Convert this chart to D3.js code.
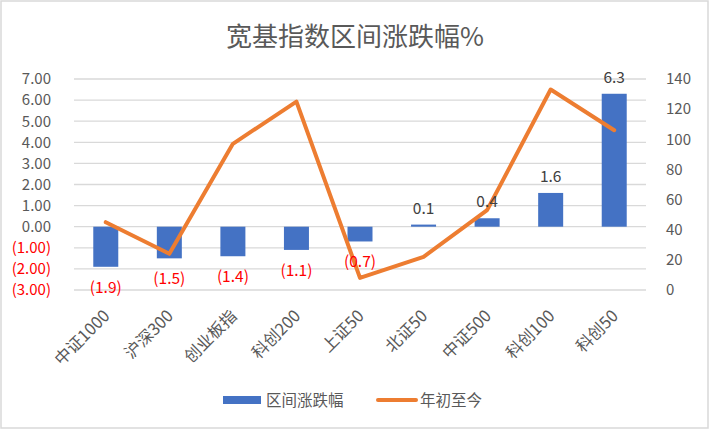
<!DOCTYPE html>
<html>
<head>
<meta charset="utf-8">
<script src="https://cdn.jsdelivr.net/npm/d3@7"></script>
<style>
body { margin: 0; background: #fff; }
text { font-family: "Noto Sans CJK SC", "Noto Sans", sans-serif; }
</style>
</head>
<body>
<div id="chart"></div>
<script>
const categories = ["中证1000", "沪深300", "创业板指", "科创200", "上证50", "北证50", "中证500", "科创100", "科创50"];
const rangeChange = [-1.9, -1.5, -1.4, -1.1, -0.7, 0.1, 0.4, 1.6, 6.3];
const ytd = [45, 24, 97, 125, 8, 22, 53, 133, 106];
const leftTicks = [-3, -2, -1, 0, 1, 2, 3, 4, 5, 6, 7];
const rightTicks = [0, 20, 40, 60, 80, 100, 120, 140];

const width = 709, height = 431;
const margin = { top: 79, right: 63, bottom: 141, left: 74 };

const svg = d3.select('#chart').append('svg').attr('width', width).attr('height', height);

// outer border
svg.append('rect').attr('x', 1).attr('y', 1).attr('width', width - 2).attr('height', height - 4)
    .attr('fill', '#fff').attr('stroke', '#d9d9d9').attr('stroke-width', 1.5);

const x = d3.scaleBand().domain(categories).range([margin.left, width - margin.right]).paddingInner(0).paddingOuter(0);
const yL = d3.scaleLinear().domain([-3, 7]).range([height - margin.bottom, margin.top]);
const yR = d3.scaleLinear().domain([0, 140]).range([height - margin.bottom, margin.top]);

// gridlines
svg.append('g').selectAll('line').data(leftTicks).enter().append('line')
    .attr('x1', margin.left).attr('x2', width - margin.right)
    .attr('y1', d => yL(d)).attr('y2', d => yL(d))
    .attr('stroke', '#d9d9d9').attr('stroke-width', 1.3);

const fmt = d => d < 0 ? '(' + Math.abs(d).toFixed(2) + ')' : d.toFixed(2);

// left axis
const leftAxis = svg.append('g').attr('transform', `translate(${margin.left - 20},0)`)
    .call(d3.axisLeft(yL).tickValues(leftTicks).tickFormat(fmt).tickSize(0));
leftAxis.select('.domain').remove();
leftAxis.selectAll('text').attr('font-size', 15).attr('dx', 0)
    .attr('fill', d => d < 0 ? '#ff0000' : '#595959');

// right axis
const rightAxis = svg.append('g').attr('transform', `translate(${width - margin.right + 17},0)`)
    .call(d3.axisRight(yR).tickValues(rightTicks).tickSize(0));
rightAxis.select('.domain').remove();
rightAxis.selectAll('text').attr('font-size', 15).attr('fill', '#595959');

// bars
const bw = 25;
svg.append('g').selectAll('rect').data(rangeChange).enter().append('rect')
    .attr('x', (d, i) => x(categories[i]) + x.bandwidth() / 2 - bw / 2)
    .attr('width', bw)
    .attr('y', d => yL(Math.max(0, d)))
    .attr('height', d => Math.abs(yL(d) - yL(0)))
    .attr('fill', '#4472c4');

// line
const line = d3.line().x((d, i) => x(categories[i]) + x.bandwidth() / 2).y(d => yR(d));
svg.append('path').datum(ytd).attr('d', line)
    .attr('fill', 'none').attr('stroke', '#ed7d31').attr('stroke-width', 4)
    .attr('stroke-linejoin', 'round').attr('stroke-linecap', 'round');

// bar labels
svg.append('g').selectAll('text').data(rangeChange).enter().append('text')
    .attr('x', (d, i) => x(categories[i]) + x.bandwidth() / 2)
    .attr('y', d => d < 0 ? yL(d) + 26 : yL(d) - 11)
    .attr('text-anchor', 'middle').attr('font-size', 15.5)
    .attr('fill', d => d < 0 ? '#ff0000' : '#404040')
    .text(d => d < 0 ? '(' + Math.abs(d).toFixed(1) + ')' : d.toFixed(1));

// category labels
svg.append('g').selectAll('text').data(categories).enter().append('text')
    .attr('transform', d => `translate(${x(d) + x.bandwidth() / 2 + 5},${height - margin.bottom + 27}) rotate(-45)`)
    .attr('text-anchor', 'end').attr('font-size', 16.5).attr('fill', '#595959')
    .text(d => d);

// title
svg.append('text').attr('x', 355).attr('y', 46).attr('text-anchor', 'middle')
    .attr('font-size', 26).attr('fill', '#595959').text('宽基指数区间涨跌幅%');

// legend
const lg = svg.append('g');
lg.append('rect').attr('x', 223).attr('y', 396).attr('width', 38).attr('height', 8).attr('fill', '#4472c4');
lg.append('text').attr('x', 266).attr('y', 405.5).attr('font-size', 15.5).attr('fill', '#595959').text('区间涨跌幅');
lg.append('line').attr('x1', 378).attr('x2', 416).attr('y1', 400).attr('y2', 400)
    .attr('stroke', '#ed7d31').attr('stroke-width', 4).attr('stroke-linecap', 'round');
lg.append('text').attr('x', 420).attr('y', 405.5).attr('font-size', 15.5).attr('fill', '#595959').text('年初至今');
</script>
</body>
</html>
